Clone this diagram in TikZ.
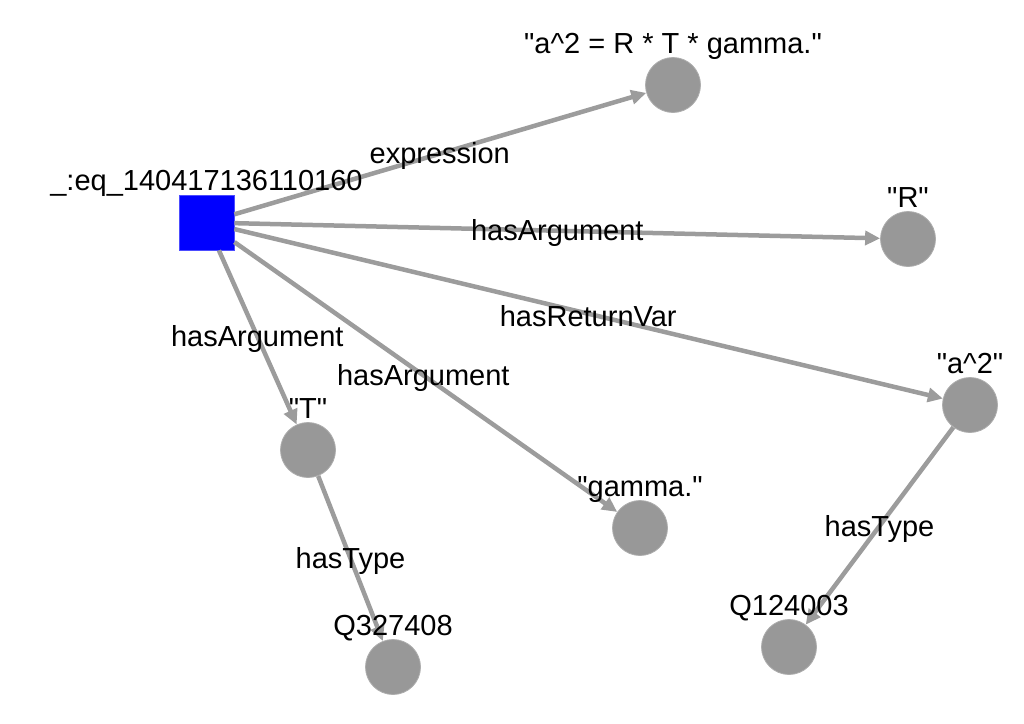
\documentclass[tikz,border=0pt]{standalone}
\usepackage{fontspec}
\setmainfont{Liberation Sans}
\usetikzlibrary{arrows.meta,calc}
\definecolor{nodegray}{RGB}{152,152,152}
\definecolor{edgegray}{RGB}{156,156,156}
\definecolor{eqblue}{RGB}{0,0,255}
\newcommand{\qt}[1]{\textquotedbl#1\textquotedbl}

\begin{document}
\begin{tikzpicture}[x=1pt,y=-1pt,
    font=\fontsize{29}{32}\selectfont,
    lit/.style={circle,fill=nodegray,draw=nodegray!80!white,line width=0.8pt,minimum size=55pt,inner sep=0pt},
    res/.style={rectangle,fill=eqblue,draw=eqblue!70!white,line width=0.8pt,minimum size=55pt,inner sep=0pt},
    idtext/.style={anchor=base,inner sep=0pt},
    rel/.style={inner sep=0pt,yshift=-2.5pt},
    edge/.style={draw=edgegray,line width=4.5pt,-{Triangle[length=15pt,width=14pt]}}]
    \useasboundingbox (0,0) rectangle (1024,723);

    \node[res] (eq) at (206.5,222.5) {};
    \node[lit] (expr) at (673,85) {};
    \node[lit] (R) at (908,239) {};
    \node[lit] (a2) at (970,405) {};
    \node[lit] (T) at (308,450) {};
    \node[lit] (gam) at (640,528) {};
    \node[lit] (q1) at (393,667) {};
    \node[lit] (q2) at (789,647) {};

    \draw[edge] (eq) -- (expr);
    \draw[edge] (eq) -- (R);
    \draw[edge] (eq) -- (a2);
    \draw[edge] (eq) -- (T);
    \draw[edge] (eq) -- (gam);
    \draw[edge] (T) -- (q1);
    \draw[edge] (a2) -- (q2);

    % names above the nodes
    \node[idtext] (l-eq) at ($(eq)+(0,-32)$) {\_:eq\_140417136110160};
    \node[idtext] (l-expr) at ($(expr)+(0,-32)$) {\qt{a\textasciicircum2 = R * T * gamma.}};
    \node[idtext] (l-R) at ($(R)+(0,-32)$) {\qt{R}};
    \node[idtext] (l-a2) at ($(a2)+(0,-32)$) {\qt{a\textasciicircum2}};
    \node[idtext] (l-T) at ($(T)+(0,-32)$) {\qt{T}};
    \node[idtext] (l-gam) at ($(gam)+(0,-32)$) {\qt{gamma.}};
    \node[idtext] (l-q1) at ($(q1)+(0,-32)$) {Q327408};
    \node[idtext] (l-q2) at ($(q2)+(0,-32)$) {Q124003};

    % edge labels
    \node[rel] (r-expr) at ($(eq)!.5!(expr)$) {expression};
    \node[rel] (r-R) at ($(eq)!.5!(R)$) {hasArgument};
    \node[rel] (r-a2) at ($(eq)!.5!(a2)$) {hasReturnVar};
    \node[rel] (r-T) at ($(eq)!.5!(T)$) {hasArgument};
    \node[rel] (r-gam) at ($(eq)!.5!(gam)$) {hasArgument};
    \node[rel] (r-q1) at ($(T)!.5!(q1)$) {hasType};
    \node[rel] (r-q2) at ($(a2)!.5!(q2)$) {hasType};
\end{tikzpicture}
\end{document}
